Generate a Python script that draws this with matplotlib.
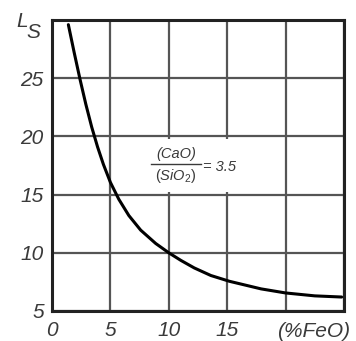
import matplotlib.pyplot as plt
from matplotlib.lines import Line2D
from matplotlib.patches import Rectangle

# values
feo = [1.4, 1.9, 2.4, 2.9, 3.4, 3.9, 4.4, 5.0, 5.72, 6.58, 7.59, 8.88, 10.0,
       11.03, 12.18, 13.6, 15.2, 17.9, 20.0, 22.5, 24.8]
ls = [29.6, 27.2, 24.9, 22.75, 20.8, 19.1, 17.6, 16.05, 14.6, 13.2, 11.95, 10.8, 10.0,
      9.35, 8.7, 8.05, 7.55, 6.9, 6.55, 6.3, 6.2]

x_ticks = [0, 5, 10, 15, 20, 25]
x_tick_labels = ['0', '5', '10', '15', '', '']
y_ticks = [5, 10, 15, 20, 25, 30]
y_tick_labels = ['5', '10', '15', '20', '25', '']

plt.rcParams['font.family'] = ['Liberation Sans', 'DejaVu Sans']
plt.rcParams['mathtext.fontset'] = 'custom'
plt.rcParams['mathtext.rm'] = 'Liberation Sans'
plt.rcParams['mathtext.it'] = 'Liberation Sans:italic'
txt_color = '#3a3a3a'

fig = plt.figure(figsize=(3.56, 3.41), dpi=100)
ax = fig.add_axes([52 / 356, 1 - 311 / 341, 292 / 356, 291 / 341])

ax.plot(feo, ls, color='black', linewidth=2.2, solid_capstyle='round', solid_joinstyle='round', zorder=3)

ax.set_xlim(0, 25)
ax.set_ylim(5, 30)
ax.set_xticks(x_ticks)
ax.set_xticklabels(x_tick_labels)
ax.set_yticks(y_ticks)
ax.set_yticklabels(y_tick_labels)
ax.tick_params(length=0, labelsize=15, colors=txt_color)
ax.tick_params(axis='x', pad=7)
ax.tick_params(axis='y', pad=6)
for lab in ax.get_xticklabels() + ax.get_yticklabels():
    lab.set_fontstyle('italic')

ax.grid(True, color='#555555', linewidth=1.6)
ax.set_axisbelow(True)
for sp in ax.spines.values():
    sp.set_linewidth(2.2)
    sp.set_color('#222222')

# axis captions
fig.text(314 / 356, 1 - 322 / 341, '(%FeO)', ha='center', va='top',
         fontsize=15, fontstyle='italic', color=txt_color)
fig.text(16 / 356, 1 - 27 / 341, 'L', fontsize=15, fontstyle='italic', color=txt_color, ha='left', va='baseline')
fig.text(26 / 356, 1 - 38 / 341, 'S', fontsize=15, fontstyle='italic', color=txt_color, ha='left', va='baseline')

# basicity ratio note on a white patch that hides the vertical grid lines
ax.add_patch(Rectangle((6.5, 15.2), 12.0, 4.6, facecolor='white', edgecolor='none', zorder=1))
fx, fy = 10.6, 17.63
ax.text(fx, fy + 0.25, '(CaO)', ha='center', va='bottom', fontsize=10.5, fontstyle='italic', color=txt_color, zorder=4)
ax.add_line(Line2D([fx - 2.15, fx + 2.15], [fy, fy], color=txt_color, linewidth=1.0, zorder=4))
ax.text(fx, fy - 0.25, r'$\mathit{(SiO_2)}$', ha='center', va='top', fontsize=10.5, color=txt_color, zorder=4)
ax.text(12.9, fy - 0.3, '= 3.5', ha='left', va='center', fontsize=10.5, fontstyle='italic', color=txt_color, zorder=4)

fig.savefig('out.png', dpi=100)
